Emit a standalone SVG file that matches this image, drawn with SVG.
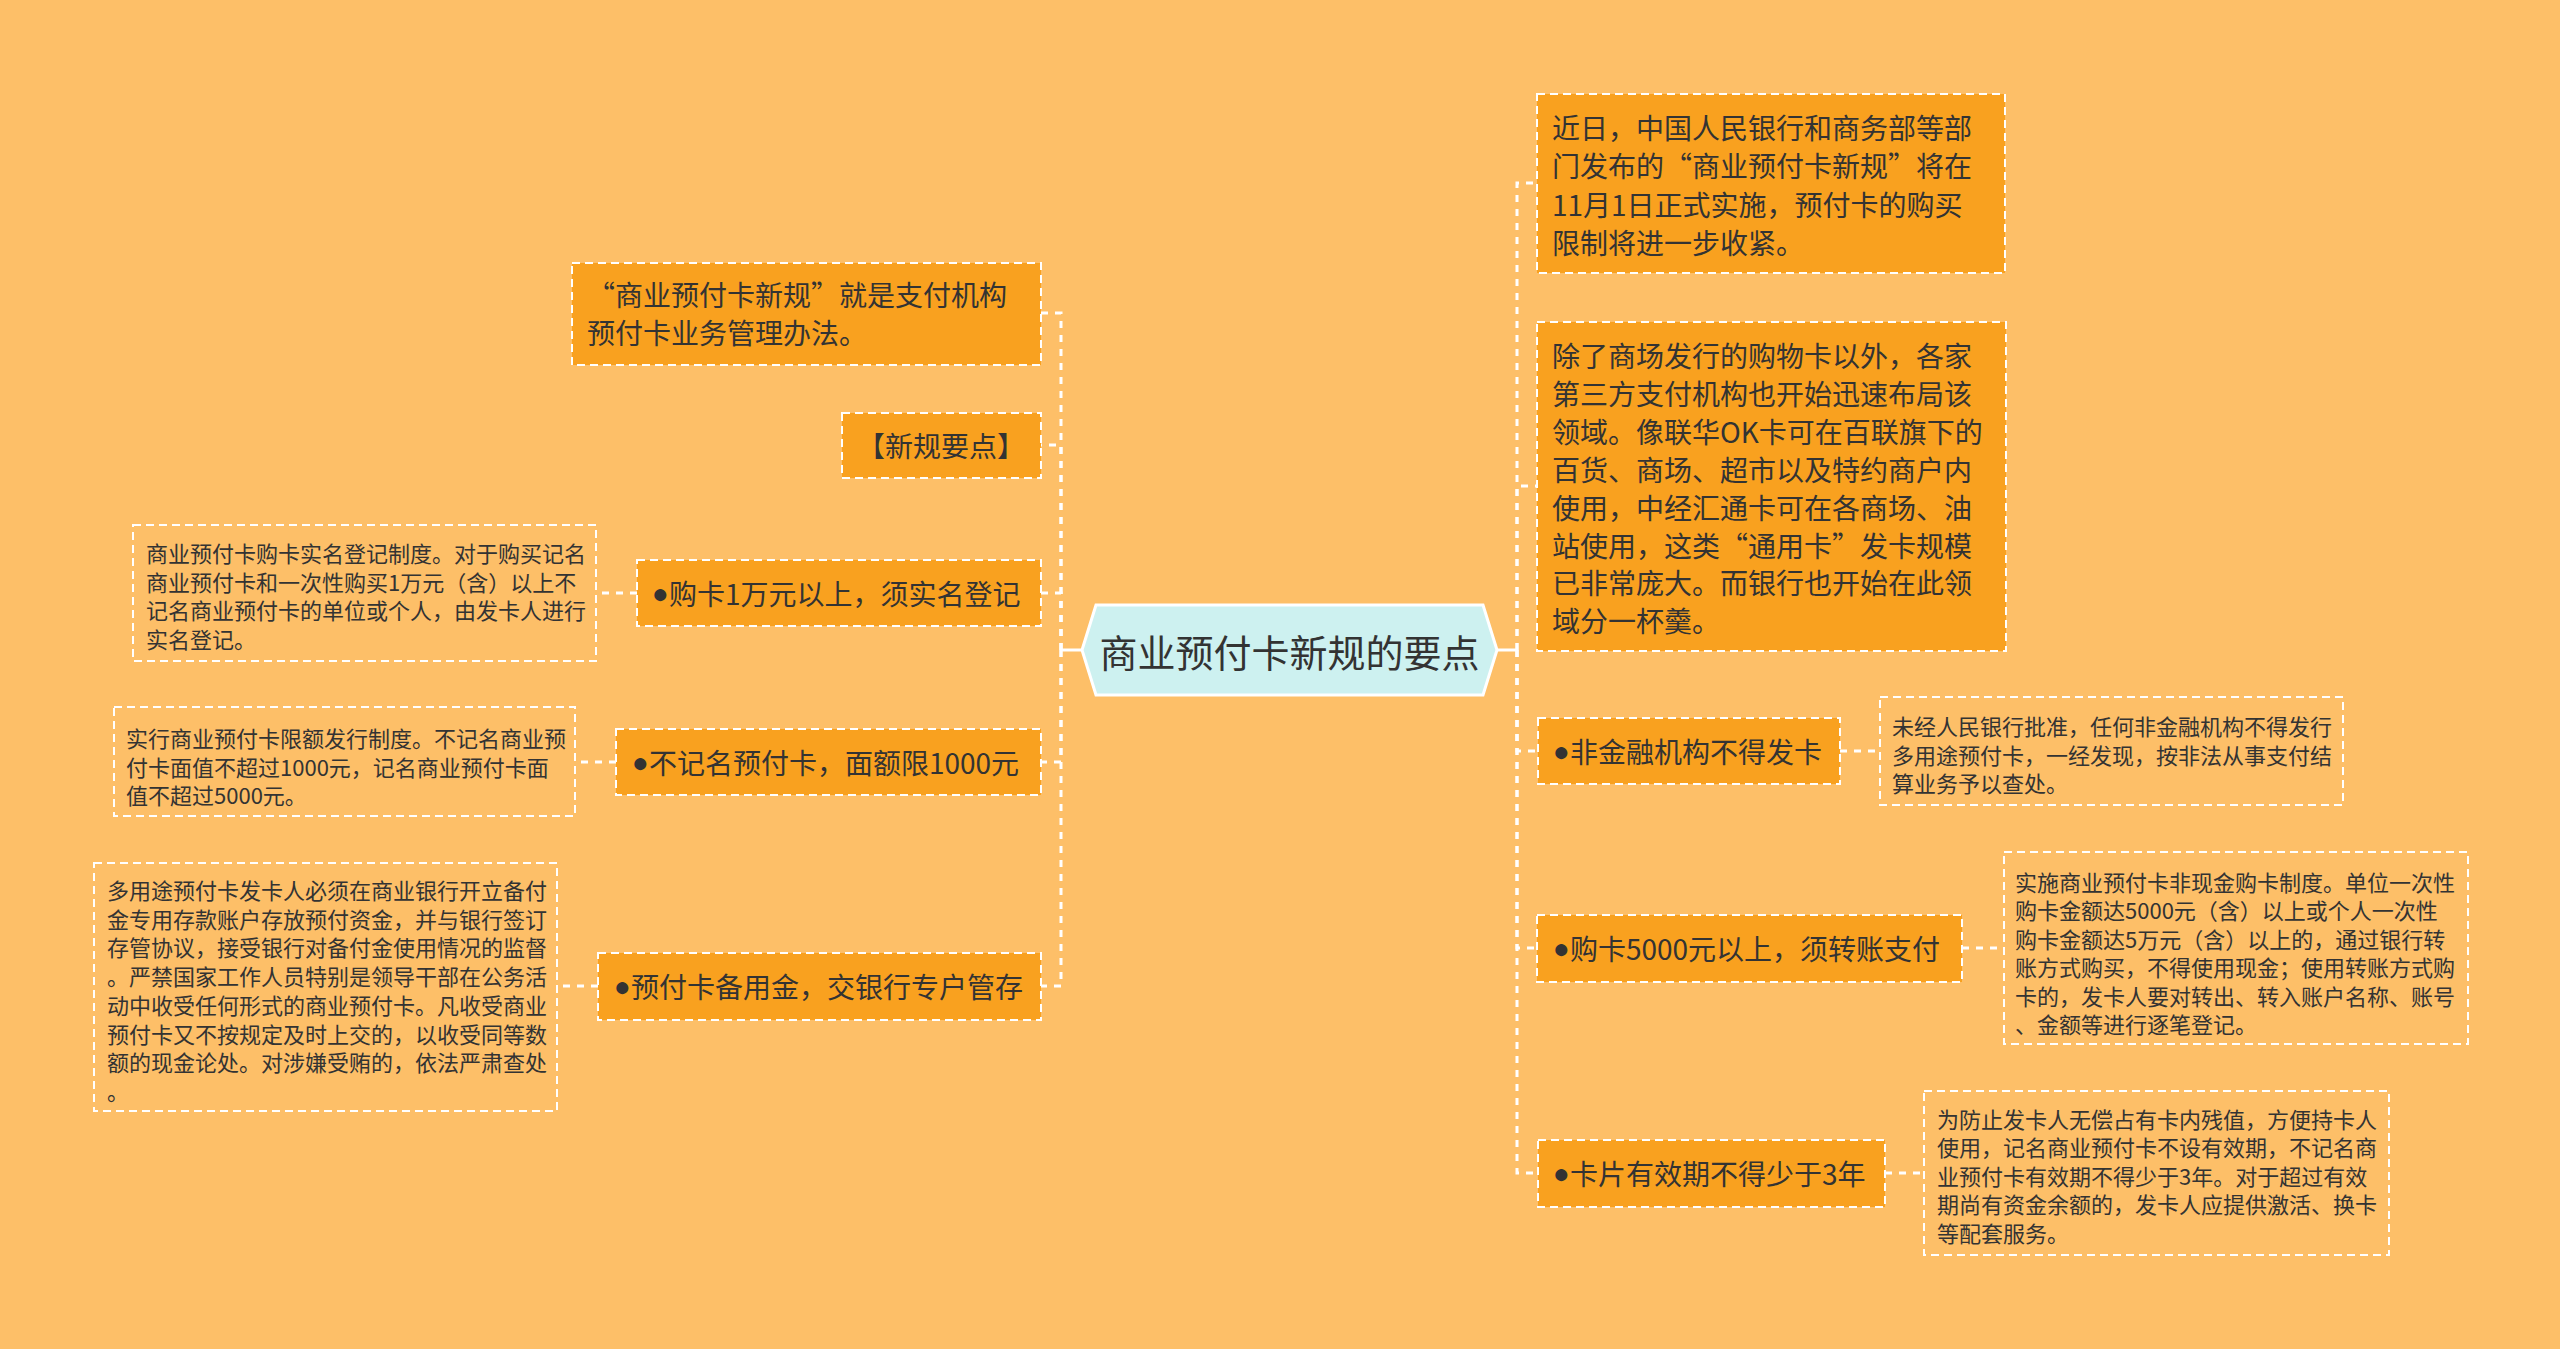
<svg xmlns="http://www.w3.org/2000/svg" width="2560" height="1349" viewBox="0 0 2560 1349">
<style>
text{font-family:"Noto Sans CJK SC","Noto Sans",sans-serif;fill:#333333;dominant-baseline:central}
.t28{font-size:28px}
.t22{font-size:22px}
.t38{font-size:38px}
.b{font-family:"Liberation Sans","DejaVu Sans",sans-serif}
.main{fill:#f9a11f;stroke:#ffffff;stroke-width:2;stroke-dasharray:8 5}
.detail{fill:none;stroke:#ffffff;stroke-width:2;stroke-dasharray:8 5}
.conn{fill:none;stroke:#ffffff;stroke-width:3;stroke-dasharray:7 7}
.solid{fill:none;stroke:#ffffff;stroke-width:3}
</style>
<rect x="0" y="0" width="2560" height="1349" fill="#fdbf68"/>
<g id="connectors">
<path class="solid" d="M1082,650 H1061"/>
<path class="solid" d="M1497,650 H1517"/>
<path class="conn" d="M1061,650 V313 H1041"/>
<path class="conn" d="M1061,650 V445 H1041"/>
<path class="conn" d="M1061,650 V593 H1041"/>
<path class="conn" d="M1061,650 V762 H1041"/>
<path class="conn" d="M1061,650 V986 H1041"/>
<path class="conn" d="M1517,650 V183 H1537"/>
<path class="conn" d="M1517,650 V486 H1537"/>
<path class="conn" d="M1517,650 V751 H1538"/>
<path class="conn" d="M1517,650 V948 H1537"/>
<path class="conn" d="M1517,650 V1173 H1538"/>
<path class="conn" d="M637,593 H596"/>
<path class="conn" d="M616,762 H575"/>
<path class="conn" d="M598,986 H557"/>
<path class="conn" d="M1840,751 H1880"/>
<path class="conn" d="M1962,948 H2004"/>
<path class="conn" d="M1885,1173 H1924"/>
</g>
<g id="center">
<polygon points="1082,650 1096,605 1483,605 1497,650 1483,695 1096,695" fill="#cdf1f0" stroke="#ffffff" stroke-width="3"/>
<text class="t38" x="1289.5" y="650" text-anchor="middle">商业预付卡新规的要点</text>
</g>
<g id="nodeA">
<rect class="main" x="572" y="263" width="469" height="102"/>
<text class="t28" x="587" y="294">“商业预付卡新规”就是支付机构</text>
<text class="t28" x="587" y="332">预付卡业务管理办法。</text>
</g>
<g id="nodeB">
<rect class="main" x="842" y="413" width="199" height="65"/>
<text class="t28" x="941" y="445" text-anchor="middle">【新规要点】</text>
</g>
<g id="nodeC">
<rect class="main" x="637" y="560" width="404" height="66"/>
<text class="t28" x="652" y="593"><tspan class="b">●</tspan>购卡1万元以上，须实名登记</text>
</g>
<g id="detailC">
<rect class="detail" x="133" y="525" width="463" height="136"/>
<text class="t22" x="146" y="552">商业预付卡购卡实名登记制度。对于购买记名</text>
<text class="t22" x="146" y="580.5">商业预付卡和一次性购买1万元（含）以上不</text>
<text class="t22" x="146" y="609">记名商业预付卡的单位或个人，由发卡人进行</text>
<text class="t22" x="146" y="637.5">实名登记。</text>
</g>
<g id="nodeD">
<rect class="main" x="616" y="729" width="425" height="66"/>
<text class="t28" x="632" y="762"><tspan class="b">●</tspan>不记名预付卡，面额限1000元</text>
</g>
<g id="detailD">
<rect class="detail" x="114" y="707" width="461" height="109"/>
<text class="t22" x="126" y="737">实行商业预付卡限额发行制度。不记名商业预</text>
<text class="t22" x="126" y="765.5">付卡面值不超过1000元，记名商业预付卡面</text>
<text class="t22" x="126" y="794">值不超过5000元。</text>
</g>
<g id="nodeE">
<rect class="main" x="598" y="953" width="443" height="67"/>
<text class="t28" x="614" y="986"><tspan class="b">●</tspan>预付卡备用金，交银行专户管存</text>
</g>
<g id="detailE">
<rect class="detail" x="94" y="863" width="463" height="248"/>
<text class="t22" x="107" y="889">多用途预付卡发卡人必须在商业银行开立备付</text>
<text class="t22" x="107" y="917.7">金专用存款账户存放预付资金，并与银行签订</text>
<text class="t22" x="107" y="946.4">存管协议，接受银行对备付金使用情况的监督</text>
<text class="t22" x="107" y="975.1">。严禁国家工作人员特别是领导干部在公务活</text>
<text class="t22" x="107" y="1003.8">动中收受任何形式的商业预付卡。凡收受商业</text>
<text class="t22" x="107" y="1032.5">预付卡又不按规定及时上交的，以收受同等数</text>
<text class="t22" x="107" y="1061.2">额的现金论处。对涉嫌受贿的，依法严肃查处</text>
<text class="t22" x="107" y="1089.9">。</text>
</g>
<g id="nodeF">
<rect class="main" x="1537" y="94" width="468" height="179"/>
<text class="t28" x="1552" y="127">近日，中国人民银行和商务部等部</text>
<text class="t28" x="1552" y="165.3">门发布的“商业预付卡新规”将在</text>
<text class="t28" x="1552" y="203.6">11月1日正式实施，预付卡的购买</text>
<text class="t28" x="1552" y="241.9">限制将进一步收紧。</text>
</g>
<g id="nodeG">
<rect class="main" x="1537" y="322" width="469" height="329"/>
<text class="t28" x="1552" y="355">除了商场发行的购物卡以外，各家</text>
<text class="t28" x="1552" y="392.9">第三方支付机构也开始迅速布局该</text>
<text class="t28" x="1552" y="430.8">领域。像联华OK卡可在百联旗下的</text>
<text class="t28" x="1552" y="468.7">百货、商场、超市以及特约商户内</text>
<text class="t28" x="1552" y="506.6">使用，中经汇通卡可在各商场、油</text>
<text class="t28" x="1552" y="544.5">站使用，这类“通用卡”发卡规模</text>
<text class="t28" x="1552" y="582.4">已非常庞大。而银行也开始在此领</text>
<text class="t28" x="1552" y="620.3">域分一杯羹。</text>
</g>
<g id="nodeH">
<rect class="main" x="1538" y="718" width="302" height="66"/>
<text class="t28" x="1553" y="751"><tspan class="b">●</tspan>非金融机构不得发卡</text>
</g>
<g id="detailH">
<rect class="detail" x="1880" y="697" width="463" height="108"/>
<text class="t22" x="1892" y="725">未经人民银行批准，任何非金融机构不得发行</text>
<text class="t22" x="1892" y="753.5">多用途预付卡，一经发现，按非法从事支付结</text>
<text class="t22" x="1892" y="782">算业务予以查处。</text>
</g>
<g id="nodeI">
<rect class="main" x="1537" y="915" width="425" height="67"/>
<text class="t28" x="1553" y="948"><tspan class="b">●</tspan>购卡5000元以上，须转账支付</text>
</g>
<g id="detailI">
<rect class="detail" x="2004" y="852" width="464" height="192"/>
<text class="t22" x="2015" y="881">实施商业预付卡非现金购卡制度。单位一次性</text>
<text class="t22" x="2015" y="909.4">购卡金额达5000元（含）以上或个人一次性</text>
<text class="t22" x="2015" y="937.8">购卡金额达5万元（含）以上的，通过银行转</text>
<text class="t22" x="2015" y="966.2">账方式购买，不得使用现金；使用转账方式购</text>
<text class="t22" x="2015" y="994.6">卡的，发卡人要对转出、转入账户名称、账号</text>
<text class="t22" x="2015" y="1023">、金额等进行逐笔登记。</text>
</g>
<g id="nodeJ">
<rect class="main" x="1538" y="1140" width="347" height="67"/>
<text class="t28" x="1553" y="1173"><tspan class="b">●</tspan>卡片有效期不得少于3年</text>
</g>
<g id="detailJ">
<rect class="detail" x="1924" y="1091" width="465" height="164"/>
<text class="t22" x="1937" y="1118">为防止发卡人无偿占有卡内残值，方便持卡人</text>
<text class="t22" x="1937" y="1146.4">使用，记名商业预付卡不设有效期，不记名商</text>
<text class="t22" x="1937" y="1174.8">业预付卡有效期不得少于3年。对于超过有效</text>
<text class="t22" x="1937" y="1203.2">期尚有资金余额的，发卡人应提供激活、换卡</text>
<text class="t22" x="1937" y="1231.6">等配套服务。</text>
</g>
</svg>
